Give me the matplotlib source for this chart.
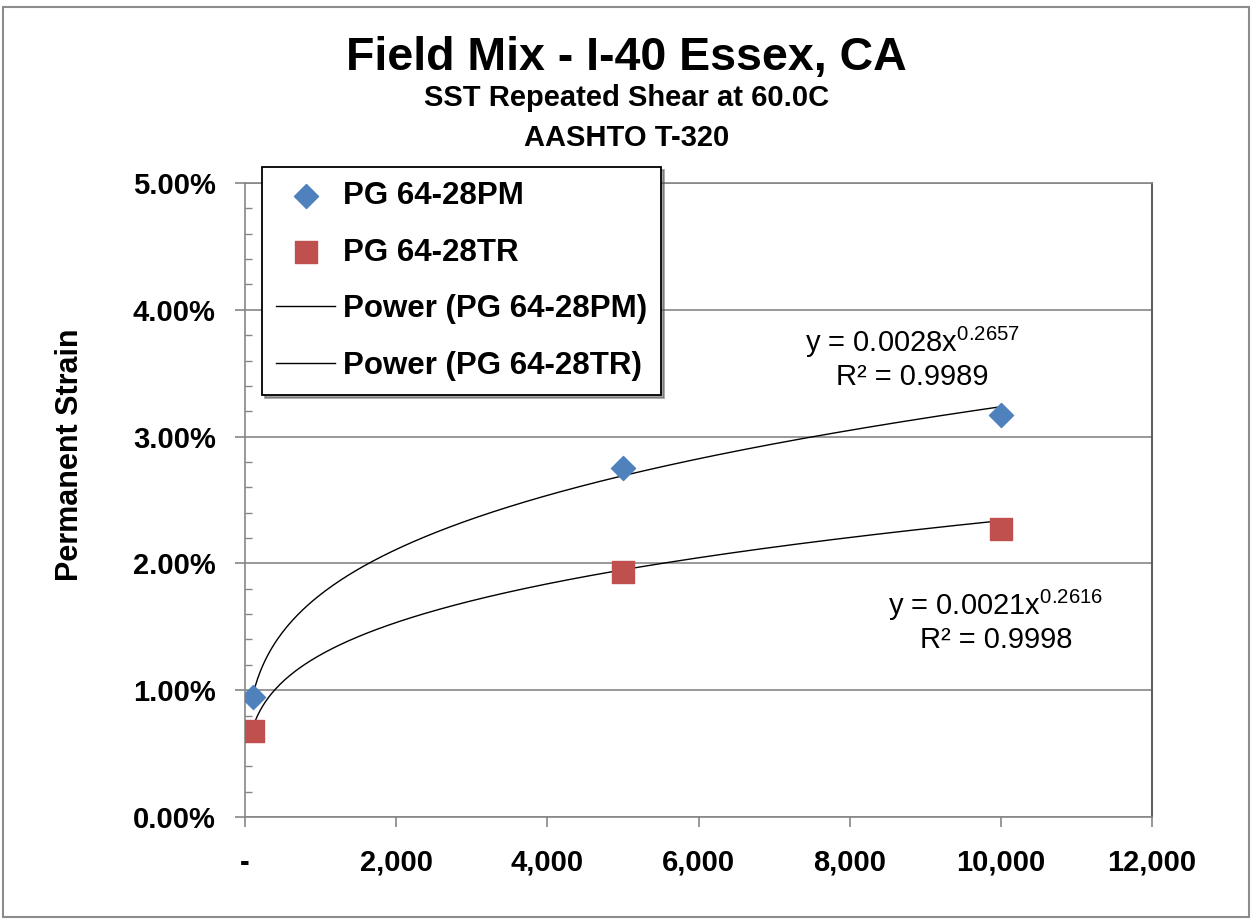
import numpy as np
import matplotlib.pyplot as plt
from matplotlib.patches import Rectangle
from matplotlib.ticker import FuncFormatter, MultipleLocator

# data
cycles = [100, 5000, 10000]
strain_pm = [0.0095, 0.0275, 0.0317]
strain_tr = [0.0068, 0.0193, 0.0227]

# power trendline coefficients (y = a * x^b) as shown on the chart
fit_pm = (0.0028, 0.2657, 0.9989)
fit_tr = (0.0021, 0.2616, 0.9998)

labels = ["PG 64-28PM", "PG 64-28TR"]
x_ticks = [0, 2000, 4000, 6000, 8000, 10000, 12000]
y_ticks = [0.0, 0.01, 0.02, 0.03, 0.04, 0.05]

plt.rcParams['font.family'] = ['Liberation Sans', 'DejaVu Sans']
plt.rcParams['mathtext.fontset'] = 'custom'
plt.rcParams['mathtext.rm'] = 'Liberation Sans'
plt.rcParams['mathtext.it'] = 'Liberation Sans'

W, H = 1253, 922
fig = plt.figure(figsize=(W / 100, H / 100), dpi=100)
ax = fig.add_axes([245 / W, 1 - 817 / H, (1152 - 245) / W, (817 - 183) / H])

grid_col = '#868686'

# trendlines
xs = np.linspace(cycles[0], cycles[-1], 300)
ax.plot(xs, fit_pm[0] * xs ** fit_pm[1], color='black', lw=1.0, zorder=2,
        label="Power (" + labels[0] + ")")
ax.plot(xs, fit_tr[0] * xs ** fit_tr[1], color='black', lw=1.0, zorder=2,
        label="Power (" + labels[1] + ")")

# data points
ax.scatter(cycles, strain_pm, marker='D', s=150, color='#4F81BD', zorder=3, label=labels[0])
ax.scatter(cycles, strain_tr, marker='s', s=260, color='#C0504D', zorder=3, label=labels[1])

ax.set_xlim(0, 12000)
ax.set_ylim(0, 0.05)
ax.set_xticks(x_ticks)
ax.set_yticks(y_ticks)
ax.yaxis.set_minor_locator(MultipleLocator(0.002))
ax.xaxis.set_major_formatter(FuncFormatter(lambda v, p: '-' if v == 0 else '{:,.0f}'.format(v)))
ax.yaxis.set_major_formatter(FuncFormatter(lambda v, p: '{:.2f}%'.format(v * 100)))

for t in ax.get_xticklabels() + ax.get_yticklabels():
    t.set_fontweight('bold')
ax.tick_params(axis='both', which='major', labelsize=21, color=grid_col, length=7, width=1.2,
               direction='out')
ax.tick_params(axis='x', pad=16)
ax.tick_params(axis='y', pad=14)
ax.tick_params(axis='y', which='minor', direction='in', length=5, color=grid_col, width=1.0)

ax.grid(axis='y', which='major', color=grid_col, lw=1.2, zorder=0)
ax.set_axisbelow(True)
for side in ['left', 'bottom', 'top']:
    ax.spines[side].set_color(grid_col)
    ax.spines[side].set_linewidth(1.2)
ax.spines['right'].set_color('#595959')
ax.spines['right'].set_linewidth(1.4)

fig.text(70 / W, 1 - 455 / H, 'Permanent Strain', rotation=90, fontsize=22, fontweight='bold',
         ha='center', va='center')

# titles
fig.text(0.5, 1 - 70 / H, 'Field Mix - I-40 Essex, CA', fontsize=33.5, fontweight='bold',
         ha='center', va='baseline')
fig.text(0.5, 1 - 106 / H, 'SST Repeated Shear at 60.0C', fontsize=21, fontweight='bold',
         ha='center', va='baseline')
fig.text(0.5, 1 - 146 / H, 'AASHTO T-320', fontsize=21, fontweight='bold',
         ha='center', va='baseline')

# trendline equations
def eq_text(fit):
    return r'y = %.4fx$^{%.4f}$' % (fit[0], fit[1]), u'R\u00b2 = %.4f' % fit[2]

e1, r1 = eq_text(fit_pm)
fig.text(912 / W, 1 - 352 / H, e1, fontsize=21, ha='center', va='baseline')
fig.text(912 / W, 1 - 385 / H, r1, fontsize=21, ha='center', va='baseline')
e2, r2 = eq_text(fit_tr)
fig.text(996 / W, 1 - 615 / H, e2, fontsize=21, ha='center', va='baseline')
fig.text(996 / W, 1 - 648 / H, r2, fontsize=21, ha='center', va='baseline')

# legend
handles, labs = ax.get_legend_handles_labels()
order = [2, 3, 0, 1]
leg = ax.legend([handles[i] for i in order], [labs[i] for i in order],
                loc='upper left', bbox_to_anchor=(262 / W, 1 - 167 / H), bbox_transform=fig.transFigure,
                prop={'weight': 'bold', 'size': 22.5}, frameon=True, fancybox=False, shadow=True,
                edgecolor='black', framealpha=1, borderpad=0.45, labelspacing=0.85,
                handlelength=1.9, handletextpad=0.25, borderaxespad=0, scatterpoints=1)
leg.get_frame().set_linewidth(1.3)
leg.set_zorder(5)

# outer chart border
fig.patches.append(Rectangle((3 / W, 1 - 917 / H), 1246 / W, 910 / H, transform=fig.transFigure,
                             fill=False, edgecolor='#8c8c8c', lw=1.5))

fig.savefig('out.png', dpi=100)
